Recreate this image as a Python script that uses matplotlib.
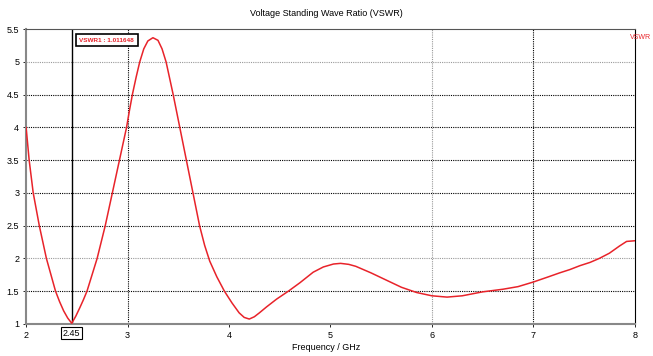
import matplotlib.pyplot as plt

freq = [2.00, 2.015, 2.03, 2.05, 2.07, 2.10, 2.13, 2.165, 2.20, 2.245, 2.29, 2.33,
        2.37, 2.41, 2.45, 2.49, 2.53, 2.565, 2.60, 2.65, 2.70, 2.74, 2.78, 2.815,
        2.85, 2.885, 2.92, 2.955, 2.99, 3.02, 3.05, 3.085, 3.12, 3.16, 3.20, 3.25,
        3.30, 3.34, 3.38, 3.45, 3.515, 3.58, 3.645, 3.71, 3.76, 3.81, 3.88, 3.955,
        4.03, 4.10, 4.15, 4.20, 4.25, 4.30, 4.37, 4.47, 4.585, 4.70, 4.83, 4.93,
        5.03, 5.10, 5.18, 5.25, 5.40, 5.55, 5.70, 5.85, 6.00, 6.15, 6.30, 6.50,
        6.70, 6.85, 7.00, 7.15, 7.26, 7.36, 7.46, 7.56, 7.65, 7.75, 7.85, 7.92,
        8.00]
vswr = [4.00, 3.75, 3.50, 3.25, 3.00, 2.75, 2.50, 2.25, 2.00, 1.75, 1.50, 1.34,
        1.20, 1.09, 1.01, 1.12, 1.25, 1.37, 1.50, 1.75, 2.00, 2.25, 2.50, 2.75,
        3.00, 3.25, 3.50, 3.75, 4.00, 4.27, 4.52, 4.77, 5.00, 5.20, 5.32, 5.37,
        5.33, 5.20, 5.00, 4.50, 4.00, 3.50, 3.00, 2.50, 2.20, 1.96, 1.72, 1.50,
        1.32, 1.17, 1.10, 1.075, 1.11, 1.17, 1.26, 1.38, 1.50, 1.63, 1.79, 1.87,
        1.915, 1.925, 1.91, 1.88, 1.78, 1.67, 1.56, 1.48, 1.43, 1.41, 1.43, 1.49,
        1.53, 1.57, 1.64, 1.72, 1.78, 1.83, 1.89, 1.94, 2.00, 2.08, 2.19, 2.26,
        2.27]

marker_f = 2.45
marker_label = "VSWR1 : 1.011648"
xticks = [2, 3, 4, 5, 6, 7, 8]
yticks = [1, 1.5, 2, 2.5, 3, 3.5, 4, 4.5, 5, 5.5]
ytick_labels = ["1", "1.5", "2", "2.5", "3", "3.5", "4", "4.5", "5", "5.5"]

plt.rcParams["font.family"] = ["Liberation Sans", "DejaVu Sans"]

fig = plt.figure(figsize=(6.53, 3.56), dpi=100)
ax = fig.add_axes([0.040, 0.090, 0.932, 0.828])

# grid lines like the CST export: some dark, some grey
for y in yticks[1:-1]:
    c = "#999999" if y in (2, 5) else "black"
    ax.axhline(y, color=c, ls=(0, (1, 1)), lw=0.8, zorder=1)
for x in [3, 6, 7]:
    c = "#999999" if x == 6 else "black"
    ax.axvline(x, color=c, ls=(0, (1, 1)), lw=0.8, zorder=1)

ax.plot(freq, vswr, color="#e8232a", lw=1.1, zorder=3)
ax.axvline(marker_f, color="black", lw=1.0, zorder=2)

ax.set_xlim(2, 8)
ax.set_ylim(1, 5.5)
ax.set_xticks(xticks)
ax.set_yticks(yticks)
ax.set_xticklabels([str(v) for v in xticks], fontsize=6.5)
ax.set_yticklabels(ytick_labels, fontsize=6.5)
ax.tick_params(length=2, width=0.6, pad=3)

for s in ["left", "bottom"]:
    ax.spines[s].set_color("#888888")
    ax.spines[s].set_linewidth(1.5)
ax.spines["right"].set_color("black")
ax.spines["top"].set_color("#555555")

ax.text(marker_f, 0.93, "2.45", fontsize=6.5, ha="center", va="top",
        bbox=dict(boxstyle="square,pad=0.2", fc="white", ec="black", lw=0.8),
        clip_on=False)

ax.text(2.525, 5.335, marker_label, fontsize=4.6, color="#e8232a", ha="left", va="center",
        fontweight="bold",
        bbox=dict(boxstyle="square,pad=0.55", fc="white", ec="black", lw=1.2))

fig.text(0.5, 0.975, "Voltage Standing Wave Ratio (VSWR)", fontsize=6.5, ha="center", va="top")
fig.text(0.5, 0.01, "Frequency / GHz", fontsize=6.5, ha="center", va="bottom")
fig.text(0.997, 0.895, "VSWR", fontsize=5, color="#e8232a", ha="right", va="center")

fig.savefig("out.png", dpi=100)
